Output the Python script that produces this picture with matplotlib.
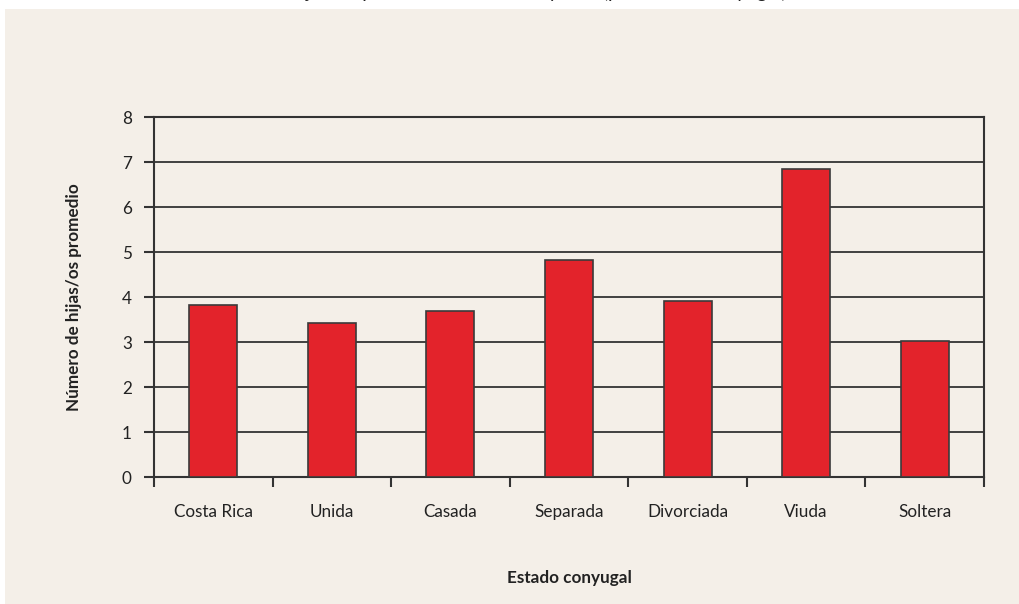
import matplotlib
matplotlib.use("Agg")
import matplotlib.pyplot as plt
from matplotlib.patches import Rectangle
import numpy as np

plt.rcParams["font.family"] = ["Lato", "DejaVu Sans"]

# values
categories = ["Costa Rica", "Unida", "Casada", "Separada", "Divorciada", "Viuda", "Soltera"]
hijos = [3.84, 3.43, 3.69, 4.82, 3.92, 6.85, 3.02]
title = "Número de hijas/os promedio de 15 años y más (por estado conyugal)"

BG = "#f4efe8"
RED = "#e3232b"
DARK = "#333333"

fig = plt.figure(figsize=(10.2, 6.04), dpi=100)
fig.patch.set_facecolor("white")
# beige panel under the chart (the white strip at the top shows the cut title)
fig.patches.append(Rectangle((5 / 1020, 0), 1 - 5 / 1020, (604 - 9) / 604,
                             transform=fig.transFigure, facecolor=BG,
                             edgecolor="none", zorder=-10))
fig.text(0.478, 1 + 2 / 604, title, ha="center", va="baseline",
         fontsize=14, color="#222222")

ax = fig.add_axes([154 / 1020, 1 - 477.3 / 604, 830 / 1020, 360 / 604])
ax.set_facecolor(BG)

x = np.arange(len(categories))
ax.bar(x, hijos, width=0.405, color=RED, edgecolor="#3a3a3a", linewidth=1.2, zorder=3)

ax.set_xlim(-0.5, len(categories) - 0.5)
ax.set_ylim(0, 8)
ax.set_yticks(range(0, 9))
ax.yaxis.grid(True, color=DARK, linewidth=1.3, zorder=1)

# ticks at category borders, labels at centres
ax.set_xticks(np.arange(-0.5, len(categories), 1.0))
ax.set_xticklabels([])
ax.set_xticks(x, minor=True)
ax.set_xticklabels(categories, minor=True, fontsize=12.3, color="#222222")
ax.tick_params(axis="x", which="major", direction="out", length=7, width=1.5, color=DARK)
ax.tick_params(axis="x", which="minor", length=0, pad=19)
ax.tick_params(axis="y", direction="out", length=7, width=1.5, color=DARK,
               labelsize=12.3, labelcolor="#222222", pad=9)

for side in ["left", "bottom", "right", "top"]:
    ax.spines[side].set_color(DARK)
    ax.spines[side].set_linewidth(1.5)

ax.set_xlabel("Estado conyugal", fontsize=12.3, fontweight="bold", labelpad=36, color="#222222")
ax.set_ylabel("Número de hijas/os promedio", fontsize=12.3, fontweight="bold",
              labelpad=28.5, color="#222222")

fig.savefig("out.png", dpi=100, facecolor=fig.get_facecolor())
